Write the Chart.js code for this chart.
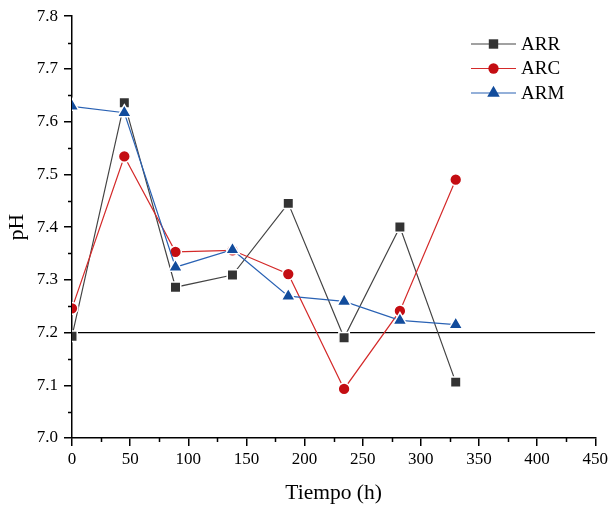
<!DOCTYPE html>
<html>
<head>
<meta charset="utf-8">
<script src="https://cdn.jsdelivr.net/npm/chart.js@4.4.1/dist/chart.umd.min.js"></script>
<style>
  html, body { margin: 0; padding: 0; background: #fff; }
  #wrap { width: 611px; height: 508px; }
</style>
</head>
<body>
<div id="wrap"><canvas id="phChart" width="611" height="508"></canvas></div>
<script>
// datos
const tiempo = [0, 45, 89, 138, 186, 234, 282, 330];
const phARR = [7.193, 7.636, 7.286, 7.309, 7.445, 7.190, 7.400, 7.106];
const phARC = [7.246, 7.534, 7.353, 7.356, 7.311, 7.093, 7.241, 7.490];
const phARM = [7.629, 7.617, 7.324, 7.357, 7.269, 7.259, 7.223, 7.215];
const nombres = ["ARR", "ARC", "ARM"];
const limitePH = 7.2;

const xMin = 0, xMax = 450, xStep = 50;
const yMin = 7.0, yMax = 7.8, yStep = 0.1;

const serif = "'Liberation Serif', 'Times New Roman', serif";

const puntos = (vals) => tiempo.map((t, i) => ({ x: t, y: vals[i] }));

const estilos = [
  { marker: "#333333", line: "#444444", point: "rect", r: 7.4 },
  { marker: "#c40d12", line: "#d42a2a", point: "circle", r: 5.9 },
  { marker: "#124c9c", line: "#2a62b4", point: "triangle", r: 8 },
];

function serie(nombre, vals, est, orden) {
  return {
    label: nombre,
    data: puntos(vals),
    borderColor: est.line,
    borderWidth: 1.2,
    pointStyle: est.point,
    pointRadius: est.r,
    pointHoverRadius: est.r,
    pointBackgroundColor: est.marker,
    pointBorderColor: "#ffffff",
    pointBorderWidth: 1.5,
    tension: 0,
    order: orden,
  };
}

function drawMarker(ctx, style, x, y, r, color) {
  ctx.fillStyle = color;
  ctx.beginPath();
  if (style === "rect") {
    const s = r * Math.SQRT1_2;
    ctx.rect(x - s, y - s, 2 * s, 2 * s);
  } else if (style === "circle") {
    ctx.arc(x, y, r, 0, Math.PI * 2);
  } else {
    let a = 0;
    ctx.moveTo(x + Math.sin(a) * r, y - Math.cos(a) * r);
    a += 2 * Math.PI / 3;
    ctx.lineTo(x + Math.sin(a) * r, y - Math.cos(a) * r);
    a += 2 * Math.PI / 3;
    ctx.lineTo(x + Math.sin(a) * r, y - Math.cos(a) * r);
    ctx.closePath();
  }
  ctx.fill();
}

// ticks menores
const minorTicks = {
  id: "minorTicks",
  afterDraw(chart) {
    const { ctx, chartArea, scales: { x, y } } = chart;
    ctx.save();
    ctx.strokeStyle = "#000";
    ctx.lineWidth = 1.5;
    ctx.beginPath();
    for (let v = xMin + xStep / 2; v < xMax; v += xStep) {
      const px = Math.round(x.getPixelForValue(v)) + 0.5;
      ctx.moveTo(px, chartArea.bottom);
      ctx.lineTo(px, chartArea.bottom + 4);
    }
    for (let v = yMin + yStep / 2; v < yMax; v += yStep) {
      const py = Math.round(y.getPixelForValue(v)) + 0.5;
      ctx.moveTo(chartArea.left, py);
      ctx.lineTo(chartArea.left - 4, py);
    }
    ctx.stroke();
    ctx.restore();
  },
};

// leyenda estilo Origin dentro del grafico
const leyenda = {
  id: "leyenda",
  afterDraw(chart) {
    const { ctx } = chart;
    ctx.save();
    nombres.forEach((n, i) => {
      const est = estilos[i];
      const cy = 44 + i * 24.5;
      ctx.strokeStyle = est.line;
      ctx.lineWidth = 1.2;
      ctx.beginPath();
      ctx.moveTo(471, cy);
      ctx.lineTo(516, cy);
      ctx.stroke();
      drawMarker(ctx, est.point, 493.5, cy, est.r - 0.75, est.marker);
      ctx.fillStyle = "#000";
      ctx.font = "19px " + serif;
      ctx.textBaseline = "middle";
      ctx.textAlign = "left";
      ctx.fillText(n, 521, cy + 1);
    });
    ctx.restore();
  },
};

new Chart(document.getElementById("phChart"), {
  type: "line",
  data: {
    datasets: [
      serie(nombres[0], phARR, estilos[0], 2),
      serie(nombres[1], phARC, estilos[1], 1),
      serie(nombres[2], phARM, estilos[2], 0),
      {
        label: "limite",
        data: [{ x: xMin, y: limitePH }, { x: xMax, y: limitePH }],
        borderColor: "#000",
        borderWidth: 1.2,
        pointRadius: 0,
        order: 3,
      },
    ],
  },
  options: {
    responsive: false,
    animation: false,
    layout: { padding: { top: 16, right: 15, left: 0, bottom: 0 } },
    plugins: { legend: { display: false }, tooltip: { enabled: false } },
    scales: {
      x: {
        type: "linear",
        min: xMin,
        max: xMax,
        afterFit(scale) { scale.height = 70; },
        ticks: { stepSize: xStep, color: "#000", padding: 3, font: { family: serif, size: 17 } },
        grid: { drawOnChartArea: false, drawTicks: true, tickLength: 8, color: "#000", lineWidth: 1.5 },
        border: { color: "#000", width: 1.5 },
        title: { display: true, text: "Tiempo (h)", color: "#000", font: { family: serif, size: 21.5 }, padding: { top: 0, bottom: 2 } },
      },
      y: {
        type: "linear",
        min: yMin,
        max: yMax,
        afterFit(scale) { scale.width = 72; },
        ticks: {
          stepSize: yStep,
          color: "#000",
          padding: 6,
          font: { family: serif, size: 17 },
          callback: (v) => Number(v).toFixed(1),
        },
        grid: { drawOnChartArea: false, drawTicks: true, tickLength: 8, color: "#000", lineWidth: 1.5 },
        border: { color: "#000", width: 1.5 },
        title: { display: true, text: "pH", color: "#000", font: { family: serif, size: 21.5 }, padding: { top: 4, bottom: 0 } },
      },
    },
  },
  plugins: [minorTicks, leyenda],
});
</script>
</body>
</html>
